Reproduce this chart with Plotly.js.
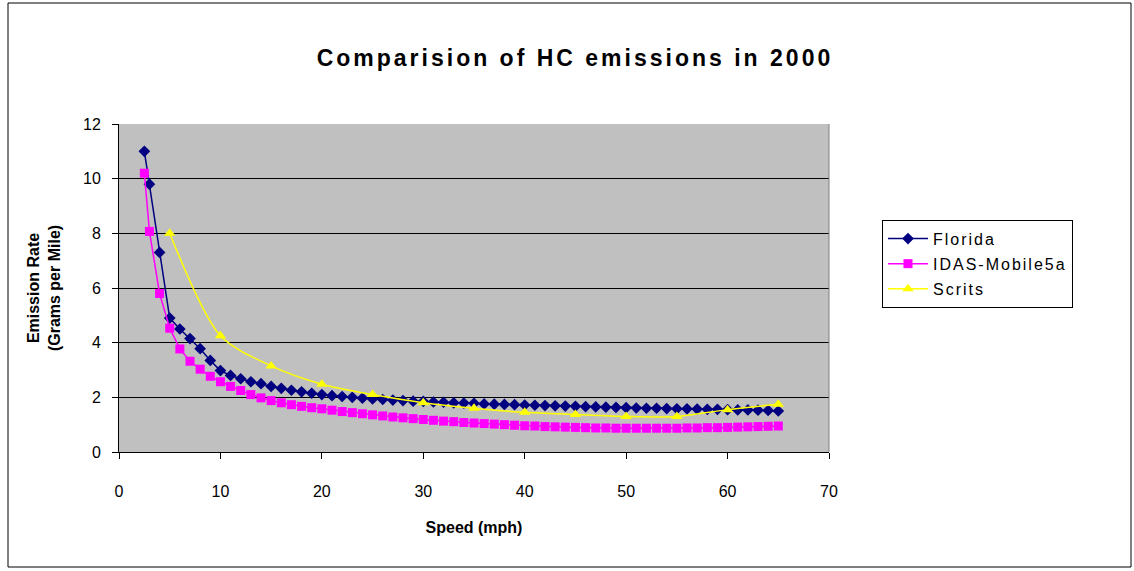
<!DOCTYPE html>
<html>
<head>
<meta charset="utf-8">
<script src="https://cdn.plot.ly/plotly-3.0.1.min.js"></script>
<style>
html,body{margin:0;padding:0;background:#fff;}
#chart{width:1134px;height:571px;}
.gtitle{letter-spacing:3px;}
.legendtext{letter-spacing:2px;}
</style>
</head>
<body>
<div id="chart"></div>
<script>
// Speeds (mph)
const speedsDense = [2.5,3,4,5,6,7,8,9,10,11,12,13,14,15,16,17,18,19,20,21,22,23,24,25,26,27,28,29,30,31,32,33,34,35,36,37,38,39,40,41,42,43,44,45,46,47,48,49,50,51,52,53,54,55,56,57,58,59,60,61,62,63,64,65];
const speedsScrits = [5,10,15,20,25,30,35,40,45,50,55,60,65];

// Emission rates (grams per mile)
const florida = [11.0,9.8,7.3,4.9,4.5,4.15,3.78,3.35,2.98,2.8,2.68,2.57,2.5,2.4,2.33,2.26,2.2,2.15,2.1,2.06,2.03,2.0,1.97,1.94,1.92,1.9,1.88,1.86,1.85,1.83,1.82,1.8,1.79,1.78,1.76,1.75,1.74,1.73,1.72,1.71,1.7,1.69,1.68,1.67,1.66,1.65,1.64,1.63,1.62,1.61,1.6,1.6,1.59,1.58,1.58,1.57,1.56,1.56,1.55,1.54,1.54,1.53,1.52,1.5];
const idasMobile5a = [10.2,8.07,5.8,4.53,3.77,3.32,3.03,2.77,2.57,2.4,2.25,2.1,1.98,1.88,1.8,1.73,1.67,1.62,1.58,1.53,1.48,1.44,1.4,1.36,1.32,1.28,1.25,1.22,1.19,1.16,1.13,1.11,1.08,1.06,1.04,1.02,1.0,0.98,0.96,0.95,0.93,0.92,0.91,0.9,0.89,0.88,0.88,0.87,0.87,0.87,0.87,0.87,0.87,0.87,0.88,0.88,0.89,0.89,0.9,0.91,0.92,0.93,0.94,0.95];
const scrits = [8.0,4.25,3.15,2.48,2.1,1.8,1.6,1.45,1.37,1.3,1.3,1.55,1.75];

const seriesNames = ["Florida","IDAS-Mobile5a","Scrits"];
const xTicks = [0,10,20,30,40,50,60,70];
const yTicks = [0,2,4,6,8,10,12];

const fontMain = "Liberation Sans, Arial, sans-serif";
const fontNarrow = "Liberation Sans Narrow, Liberation Sans, Arial, sans-serif";

function legendLabel(name) {
  return '<span style="font-size:16px">' + name + '</span>';
}

const traces = [
  {x: speedsDense, y: florida, name: legendLabel(seriesNames[0]), type: "scatter", mode: "lines+markers",
   line: {color: "#000080", width: 1.5},
   marker: {symbol: "diamond", size: 9, color: "#000080"}},
  {x: speedsDense, y: idasMobile5a, name: legendLabel(seriesNames[1]), type: "scatter", mode: "lines+markers",
   line: {color: "#FF00FF", width: 1.5},
   marker: {symbol: "square", size: 9, color: "#FF00FF"}},
  {x: speedsScrits, y: scrits, name: legendLabel(seriesNames[2]), type: "scatter", mode: "lines+markers",
   line: {color: "#FFFF00", width: 1.5, shape: "spline", smoothing: 0.8},
   marker: {symbol: "triangle-up", size: 10, color: "#FFFF00"}}
];

const layout = {
  width: 1134, height: 571,
  margin: {l: 119, r: 305, t: 124, b: 119},
  paper_bgcolor: "#ffffff",
  plot_bgcolor: "#C0C0C0",
  showlegend: true,
  title: {text: "<b>Comparision of HC emissions in 2000</b>",
          font: {family: fontMain, size: 23, color: "#000"},
          x: 0.507, xref: "container", xanchor: "center",
          y: 1 - 58/571, yref: "container", yanchor: "middle"},
  xaxis: {range: [0, 70], tickvals: xTicks, ticks: "outside", ticklen: 6, tickcolor: "#000",
          showline: true, linecolor: "#000", linewidth: 1, showgrid: false, zeroline: false,
          ticklabelstandoff: 19,
          tickfont: {family: fontNarrow, size: 16, color: "#000"},
          title: {text: "<b>Speed (mph)</b>", font: {family: fontMain, size: 16, color: "#000"}, standoff: 22},
          automargin: false},
  yaxis: {range: [0, 12], tickvals: yTicks, ticks: "outside", ticklen: 6, tickcolor: "#000",
          showline: true, linecolor: "#000", linewidth: 1, showgrid: true, gridcolor: "#000", gridwidth: 1,
          zeroline: false, ticklabelstandoff: 8,
          tickfont: {family: fontNarrow, size: 16, color: "#000"},
          title: {text: "<b>Emission Rate<br>(Grams per Mile)</b>", font: {family: fontMain, size: 16, color: "#000"}, standoff: 18},
          automargin: false},
  legend: {x: (882-119)/710, y: (452-220)/328, xanchor: "left", yanchor: "top",
           bgcolor: "#ffffff", bordercolor: "#000", borderwidth: 1,
           font: {family: fontMain, size: 17, color: "#000"},
           itemwidth: 40, tracegroupgap: 0},
  shapes: [
    {type: "line", xref: "paper", yref: "paper", x0: 1, x1: 1, y0: 0, y1: 1,
     line: {color: "#808080", width: 1}},
    {type: "rect", xref: "paper", yref: "paper",
     x0: (8-119)/710, x1: (1131-119)/710, y0: (452-567)/328, y1: (452-3)/328,
     line: {color: "#000", width: 1}, fillcolor: "rgba(0,0,0,0)", layer: "below"}
  ]
};

Plotly.newPlot("chart", traces, layout, {displayModeBar: false, staticPlot: true});
</script>
</body>
</html>
